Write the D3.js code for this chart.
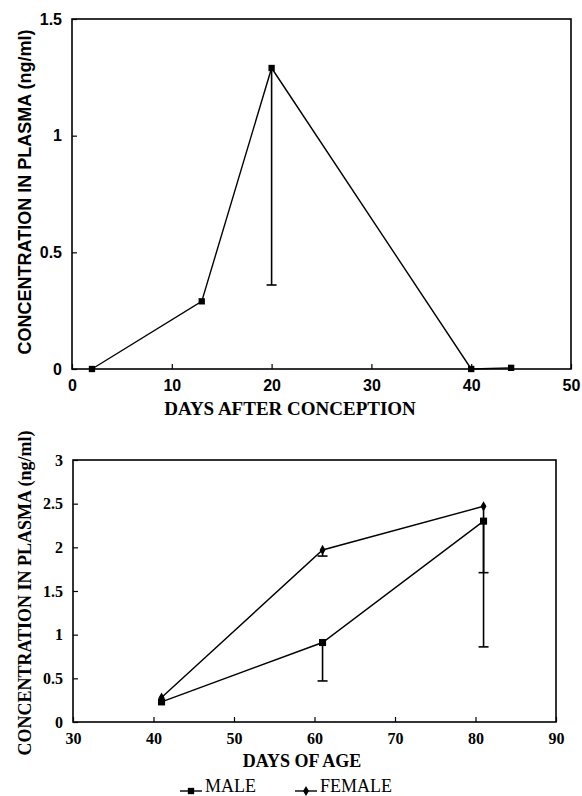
<!DOCTYPE html>
<html>
<head>
<meta charset="utf-8">
<script src="https://cdn.jsdelivr.net/npm/d3@7"></script>
<style>
  body { margin: 0; background: #fff; }
  svg { display: block; }
</style>
</head>
<body>
<svg width="582" height="796"></svg>
<script>
// top chart: days after conception
var topDays   = [2, 13, 20, 40, 44];
var topConc   = [0, 0.29, 1.29, 0, 0.005];
var topErrLow = [null, null, 0.36, null, null];
var topXTicks = [0, 10, 20, 30, 40, 50];
var topYTicks = [0, 0.5, 1, 1.5];

// bottom chart: days of age, male / female
var ageDays      = [41, 61, 81];
var maleConc     = [0.23, 0.91, 2.3];
var maleErrLow   = [null, 0.47, 0.86];
var femaleConc   = [0.28, 1.97, 2.47];
var femaleErrLow = [null, 1.9, 1.71];
var botXTicks = [30, 40, 50, 60, 70, 80, 90];
var botYTicks = [0, 0.5, 1, 1.5, 2, 2.5, 3];
var seriesNames = ["MALE", "FEMALE"];

var serif = "'Liberation Serif', 'Times New Roman', serif";
var sans  = "'Liberation Sans', Arial, sans-serif";

var svg = d3.select("svg");

// 枠と軸を描く
function drawFrame(g, x, y, xt, yt, font, xpad){
    var x0 = x.range()[0], x1 = x.range()[1];
    var y0 = y.range()[0], y1 = y.range()[1];
    g.append("rect")
        .attr("x", x0).attr("y", y1)
        .attr("width", x1 - x0).attr("height", y0 - y1)
        .attr("fill", "none").attr("stroke", "#000").attr("stroke-width", 1.6);

    var ax = g.append("g")
        .attr("transform", "translate(0," + y0 + ")")
        .call(d3.axisBottom(x).tickValues(xt).tickSize(-5).tickPadding(xpad).tickFormat(String));
    var ay = g.append("g")
        .attr("transform", "translate(" + x0 + ",0)")
        .call(d3.axisLeft(y).tickValues(yt).tickSize(-5).tickPadding(10).tickFormat(String));
    [ax, ay].forEach(function(a){
        a.select(".domain").remove();
        a.selectAll(".tick line").attr("stroke", "#000").attr("stroke-width", 1.2);
        a.selectAll(".tick text")
            .attr("fill", "#000")
            .style("font-family", font)
            .style("font-size", "16px")
            .style("font-weight", "bold");
    });
}

function drawSeries(g, x, y, xs, ys, errs, sym, size){
    // error bars (lower only)
    xs.forEach(function(d, i){
        if (errs[i] == null) return;
        g.append("line")
            .attr("x1", x(d)).attr("x2", x(d))
            .attr("y1", y(ys[i])).attr("y2", y(errs[i]))
            .attr("stroke", "#000").attr("stroke-width", 1.6);
        g.append("line")
            .attr("x1", x(d) - 5).attr("x2", x(d) + 5)
            .attr("y1", y(errs[i])).attr("y2", y(errs[i]))
            .attr("stroke", "#000").attr("stroke-width", 1.6);
    });
    var line = d3.line()
        .x(function(d){ return x(d[0]); })
        .y(function(d){ return y(d[1]); });
    g.append("path")
        .datum(xs.map(function(d, i){ return [d, ys[i]]; }))
        .attr("d", line)
        .attr("fill", "none").attr("stroke", "#000").attr("stroke-width", 1.4);
    g.selectAll(null)
        .data(xs)
        .enter()
        .append("path")
        .attr("transform", function(d, i){ return "translate(" + x(d) + "," + y(ys[i]) + ")"; })
        .attr("d", d3.symbol().type(sym).size(size))
        .attr("fill", "#000");
}

// ---- top chart ----
var gTop = svg.append("g");
var xTop = d3.scaleLinear().domain([0, 50]).range([72, 571]);
var yTop = d3.scaleLinear().domain([0, 1.5]).range([369, 19]);
drawFrame(gTop, xTop, yTop, topXTicks, topYTicks, sans, 11);
drawSeries(gTop, xTop, yTop, topDays, topConc, topErrLow, d3.symbolSquare, 40);

gTop.append("text")
    .attr("x", 290).attr("y", 415)
    .attr("text-anchor", "middle")
    .style("font-family", serif).style("font-size", "19px").style("font-weight", "bold")
    .text("DAYS AFTER CONCEPTION");
gTop.append("text")
    .attr("transform", "translate(31,192) rotate(-90)")
    .attr("text-anchor", "middle")
    .style("font-family", sans).style("font-size", "18px").style("font-weight", "bold")
    .text("CONCENTRATION IN PLASMA (ng/ml)");

// ---- bottom chart ----
var gBot = svg.append("g");
var xBot = d3.scaleLinear().domain([30, 90]).range([73, 556]);
var yBot = d3.scaleLinear().domain([0, 3]).range([722, 460]);
drawFrame(gBot, xBot, yBot, botXTicks, botYTicks, serif, 11);
drawSeries(gBot, xBot, yBot, ageDays, femaleConc, femaleErrLow, d3.symbolDiamond, 30);
drawSeries(gBot, xBot, yBot, ageDays, maleConc, maleErrLow, d3.symbolSquare, 50);

gBot.append("text")
    .attr("x", 302).attr("y", 767)
    .attr("text-anchor", "middle")
    .style("font-family", serif).style("font-size", "18px").style("font-weight", "bold")
    .text("DAYS OF AGE");
gBot.append("text")
    .attr("transform", "translate(31,593) rotate(-90)")
    .attr("text-anchor", "middle")
    .style("font-family", serif).style("font-size", "18px").style("font-weight", "bold")
    .text("CONCENTRATION IN PLASMA (ng/ml)");

// legend
var legX = [180, 295];
var legSym = [d3.symbolSquare, d3.symbolDiamond];
var legSize = [40, 30];
var leg = gBot.selectAll(".leg")
    .data(seriesNames)
    .enter()
    .append("g")
    .attr("class", "leg")
    .attr("transform", function(d, i){ return "translate(" + legX[i] + ",791)"; });
leg.append("line")
    .attr("x1", 0).attr("x2", 22)
    .attr("stroke", "#000").attr("stroke-width", 1.4);
leg.append("path")
    .attr("transform", "translate(11,0)")
    .attr("d", function(d, i){ return d3.symbol().type(legSym[i]).size(legSize[i])(); })
    .attr("fill", "#000");
leg.append("text")
    .attr("x", 25).attr("y", 1)
    .style("font-family", serif).style("font-size", "18px")
    .text(function(d){ return d; });
</script>
</body>
</html>
